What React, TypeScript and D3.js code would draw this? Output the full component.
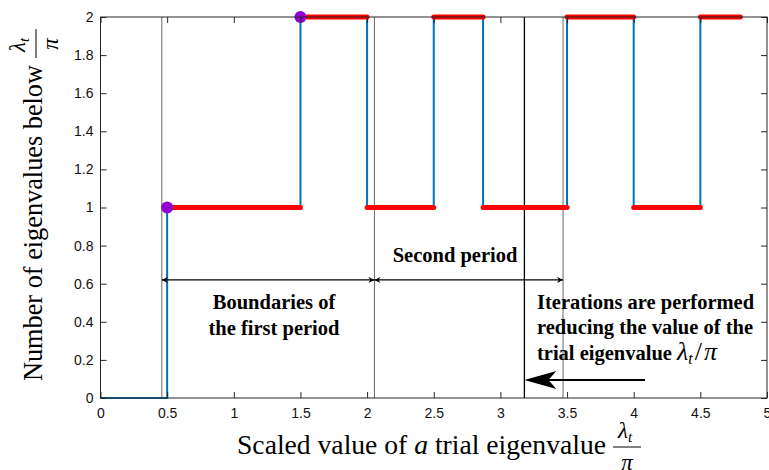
import React, { useEffect, useRef } from 'react';
import * as d3 from 'd3';

// step function: counts on each interval [stepX[i], stepX[i+1])
const stepX = [0, 0.5, 1.5, 2.0, 2.5, 2.87, 3.5, 4.0, 4.5, 4.8];
const stepY = [0, 1, 2, 1, 2, 1, 2, 1, 2];
const markers = [
  { x: 0.5, y: 1 },
  { x: 1.5, y: 2 },
];
const boundaries = [0.46, 2.055, 3.47];
const trialValue = 3.18;
const arrowLevel = 0.62;
const xTicks = [0, 0.5, 1, 1.5, 2, 2.5, 3, 3.5, 4, 4.5, 5];
const yTicks = [0, 0.2, 0.4, 0.6, 0.8, 1, 1.2, 1.4, 1.6, 1.8, 2];

const W = 769;
const H = 470;
const margin = { top: 17, right: 2, bottom: 72, left: 100.5 };
const SERIF = "'Liberation Serif', 'Times New Roman', Times, serif";

const App = () => {
  const ref = useRef<SVGSVGElement>(null);

  useEffect(() => {
    const svg = d3.select(ref.current);
    svg.selectAll('*').remove();

    const x = d3.scaleLinear().domain([0, 5]).range([margin.left, W - margin.right]);
    const y = d3.scaleLinear().domain([0, 2]).range([H - margin.bottom, margin.top]);
    const [x0, x1] = x.range();
    const [y0, y1] = y.range();

    const defs = svg.append('defs');
    defs.append('marker')
      .attr('id', 'headSmall')
      .attr('viewBox', '0 0 10 10')
      .attr('refX', 10).attr('refY', 5)
      .attr('markerWidth', 8).attr('markerHeight', 6)
      .attr('markerUnits', 'userSpaceOnUse')
      .attr('orient', 'auto-start-reverse')
      .append('path')
      .attr('d', 'M0,0 L10,5 L0,10 L3,5 Z')
      .attr('fill', '#000');

    // boundary lines
    svg.append('g').selectAll('line')
      .data(boundaries)
      .join('line')
      .attr('x1', d => x(d)).attr('x2', d => x(d))
      .attr('y1', y1).attr('y2', y0)
      .attr('stroke', '#666').attr('stroke-width', 1);

    // current trial eigenvalue
    svg.append('line')
      .attr('x1', x(trialValue)).attr('x2', x(trialValue))
      .attr('y1', y1).attr('y2', y0)
      .attr('stroke', '#000').attr('stroke-width', 1.3);

    // blue step line
    const pts = stepX.map((v, i) => [v, stepY[Math.min(i, stepY.length - 1)]] as [number, number]);
    svg.append('path')
      .attr('d', d3.line().x(d => x(d[0])).y(d => y(d[1])).curve(d3.curveStepAfter)(pts))
      .attr('fill', 'none')
      .attr('stroke', '#0072BD')
      .attr('stroke-width', 2);

    // red plateaus
    svg.append('g').selectAll('line')
      .data(stepY.map((v, i) => ({ a: stepX[i], b: stepX[i + 1], v })).filter(d => d.v > 0))
      .join('line')
      .attr('x1', d => x(d.a)).attr('x2', d => x(d.b))
      .attr('y1', d => y(d.v)).attr('y2', d => y(d.v))
      .attr('stroke', '#ff0000').attr('stroke-width', 5)
      .attr('stroke-linecap', 'round');

    svg.append('g').selectAll('circle')
      .data(markers)
      .join('circle')
      .attr('cx', d => x(d.x)).attr('cy', d => y(d.y))
      .attr('r', 6)
      .attr('fill', '#9400d3');

    // axes box
    svg.append('rect')
      .attr('x', x0).attr('y', y1)
      .attr('width', x1 - x0).attr('height', y0 - y1)
      .attr('fill', 'none').attr('stroke', '#262626').attr('stroke-width', 1);

    const tickLen = 6;
    const axisX = svg.append('g')
      .attr('transform', `translate(0,${y0})`)
      .call(d3.axisBottom(x).tickValues(xTicks).tickSizeInner(-tickLen).tickSizeOuter(0).tickPadding(10).tickFormat(d3.format('')));
    const axisXTop = svg.append('g')
      .attr('transform', `translate(0,${y1})`)
      .call(d3.axisTop(x).tickValues(xTicks).tickSizeInner(-tickLen).tickSizeOuter(0).tickFormat(() => ''));
    const axisY = svg.append('g')
      .attr('transform', `translate(${x0},0)`)
      .call(d3.axisLeft(y).tickValues(yTicks).tickSizeInner(-tickLen).tickSizeOuter(0).tickPadding(7).tickFormat(d3.format('')));
    const axisYRight = svg.append('g')
      .attr('transform', `translate(${x1},0)`)
      .call(d3.axisRight(y).tickValues(yTicks).tickSizeInner(-tickLen).tickSizeOuter(0).tickFormat(() => ''));
    [axisX, axisXTop, axisY, axisYRight].forEach(g => {
      g.select('.domain').remove();
      g.selectAll('line').attr('stroke', '#262626');
      g.selectAll('text')
        .attr('font-family', "'Liberation Sans', Arial, sans-serif")
        .attr('font-size', 14)
        .attr('fill', '#111');
    });

    // period arrows
    const ay = y(arrowLevel);
    svg.append('g').selectAll('line')
      .data([[boundaries[0], boundaries[1]], [boundaries[1], boundaries[2]]])
      .join('line')
      .attr('x1', d => x(d[0])).attr('x2', d => x(d[1]))
      .attr('y1', ay).attr('y2', ay)
      .attr('stroke', '#000').attr('stroke-width', 1.2)
      .attr('marker-start', 'url(#headSmall)')
      .attr('marker-end', 'url(#headSmall)');

    const annot = svg.append('g')
      .style('font-family', SERIF)
      .attr('font-weight', 'bold')
      .attr('font-size', 20.5)
      .attr('fill', '#000');
    annot.append('text').attr('x', 274).attr('y', 309).attr('text-anchor', 'middle').text('Boundaries of');
    annot.append('text').attr('x', 274).attr('y', 335).attr('text-anchor', 'middle').text('the first period');
    annot.append('text').attr('x', 455).attr('y', 262).attr('text-anchor', 'middle').text('Second period');
    annot.append('text').attr('x', 537).attr('y', 309).text('Iterations are performed');
    annot.append('text').attr('x', 537).attr('y', 334).text('reducing the value of the');
    const t3 = annot.append('text').attr('x', 537).attr('y', 360);
    t3.append('tspan').text('trial eigenvalue ');
    t3.append('tspan').attr('font-weight', 'normal').attr('font-style', 'italic').attr('font-size', 26).text('λ');
    t3.append('tspan').attr('font-weight', 'normal').attr('font-style', 'italic').attr('font-size', 16).attr('dy', 4).text('t');
    t3.append('tspan').attr('font-weight', 'normal').attr('font-size', 26).attr('dy', -4).attr('dx', 2).text('/');
    t3.append('tspan').attr('font-weight', 'normal').attr('font-style', 'italic').attr('font-size', 26).attr('dx', 2).text('π');

    // big arrow: iterations move left
    const bigY = 380;
    const tipX = x(trialValue);
    svg.append('line')
      .attr('x1', 645).attr('x2', tipX + 20)
      .attr('y1', bigY).attr('y2', bigY)
      .attr('stroke', '#000').attr('stroke-width', 2);
    svg.append('path')
      .attr('d', `M${tipX},${bigY} L${tipX + 32},${bigY - 9} L${tipX + 24},${bigY} L${tipX + 32},${bigY + 9} Z`)
      .attr('fill', '#000');

    // axis labels
    const lab = svg.append('g')
      .style('font-family', SERIF)
      .attr('fill', '#000');
    lab.append('text')
      .attr('x', 237).attr('y', 454)
      .attr('font-size', 27)
      .attr('textLength', 369)
      .attr('lengthAdjust', 'spacingAndGlyphs')
      .html('Scaled value of <tspan font-style="italic">a</tspan> trial eigenvalue');
    const fx = 627;
    lab.append('text').attr('x', fx - 2).attr('y', 438).attr('text-anchor', 'middle')
      .attr('font-size', 23).attr('font-style', 'italic')
      .html('λ<tspan font-size="15" dy="4">t</tspan>');
    lab.append('line').attr('x1', fx - 14).attr('x2', fx + 14).attr('y1', 447).attr('y2', 447)
      .attr('stroke', '#000').attr('stroke-width', 1);
    lab.append('text').attr('x', fx).attr('y', 470).attr('text-anchor', 'middle')
      .attr('font-size', 23).attr('font-style', 'italic').text('π');

    // rotated y label: baseline at screen x = 42
    const yl = lab.append('g').attr('transform', 'translate(42,0) rotate(-90)');
    yl.append('text')
      .attr('x', -381).attr('y', 0)
      .attr('font-size', 27)
      .attr('textLength', 316)
      .attr('lengthAdjust', 'spacingAndGlyphs')
      .text('Number of eigenvalues below');
    yl.append('text').attr('x', -45).attr('y', -17).attr('text-anchor', 'middle')
      .attr('font-size', 23).attr('font-style', 'italic')
      .html('λ<tspan font-size="15" dy="4">t</tspan>');
    yl.append('line').attr('x1', -58).attr('x2', -29).attr('y1', -6).attr('y2', -6)
      .attr('stroke', '#000').attr('stroke-width', 1);
    yl.append('text').attr('x', -44).attr('y', 16).attr('text-anchor', 'middle')
      .attr('font-size', 23).attr('font-style', 'italic').text('π');
  }, []);

  return (
    <div style={{ position: 'absolute', left: 0, top: 0 }}>
      <svg ref={ref} width={W} height={H} style={{ display: 'block', background: '#fff' }} />
    </div>
  );
};

export default App;
